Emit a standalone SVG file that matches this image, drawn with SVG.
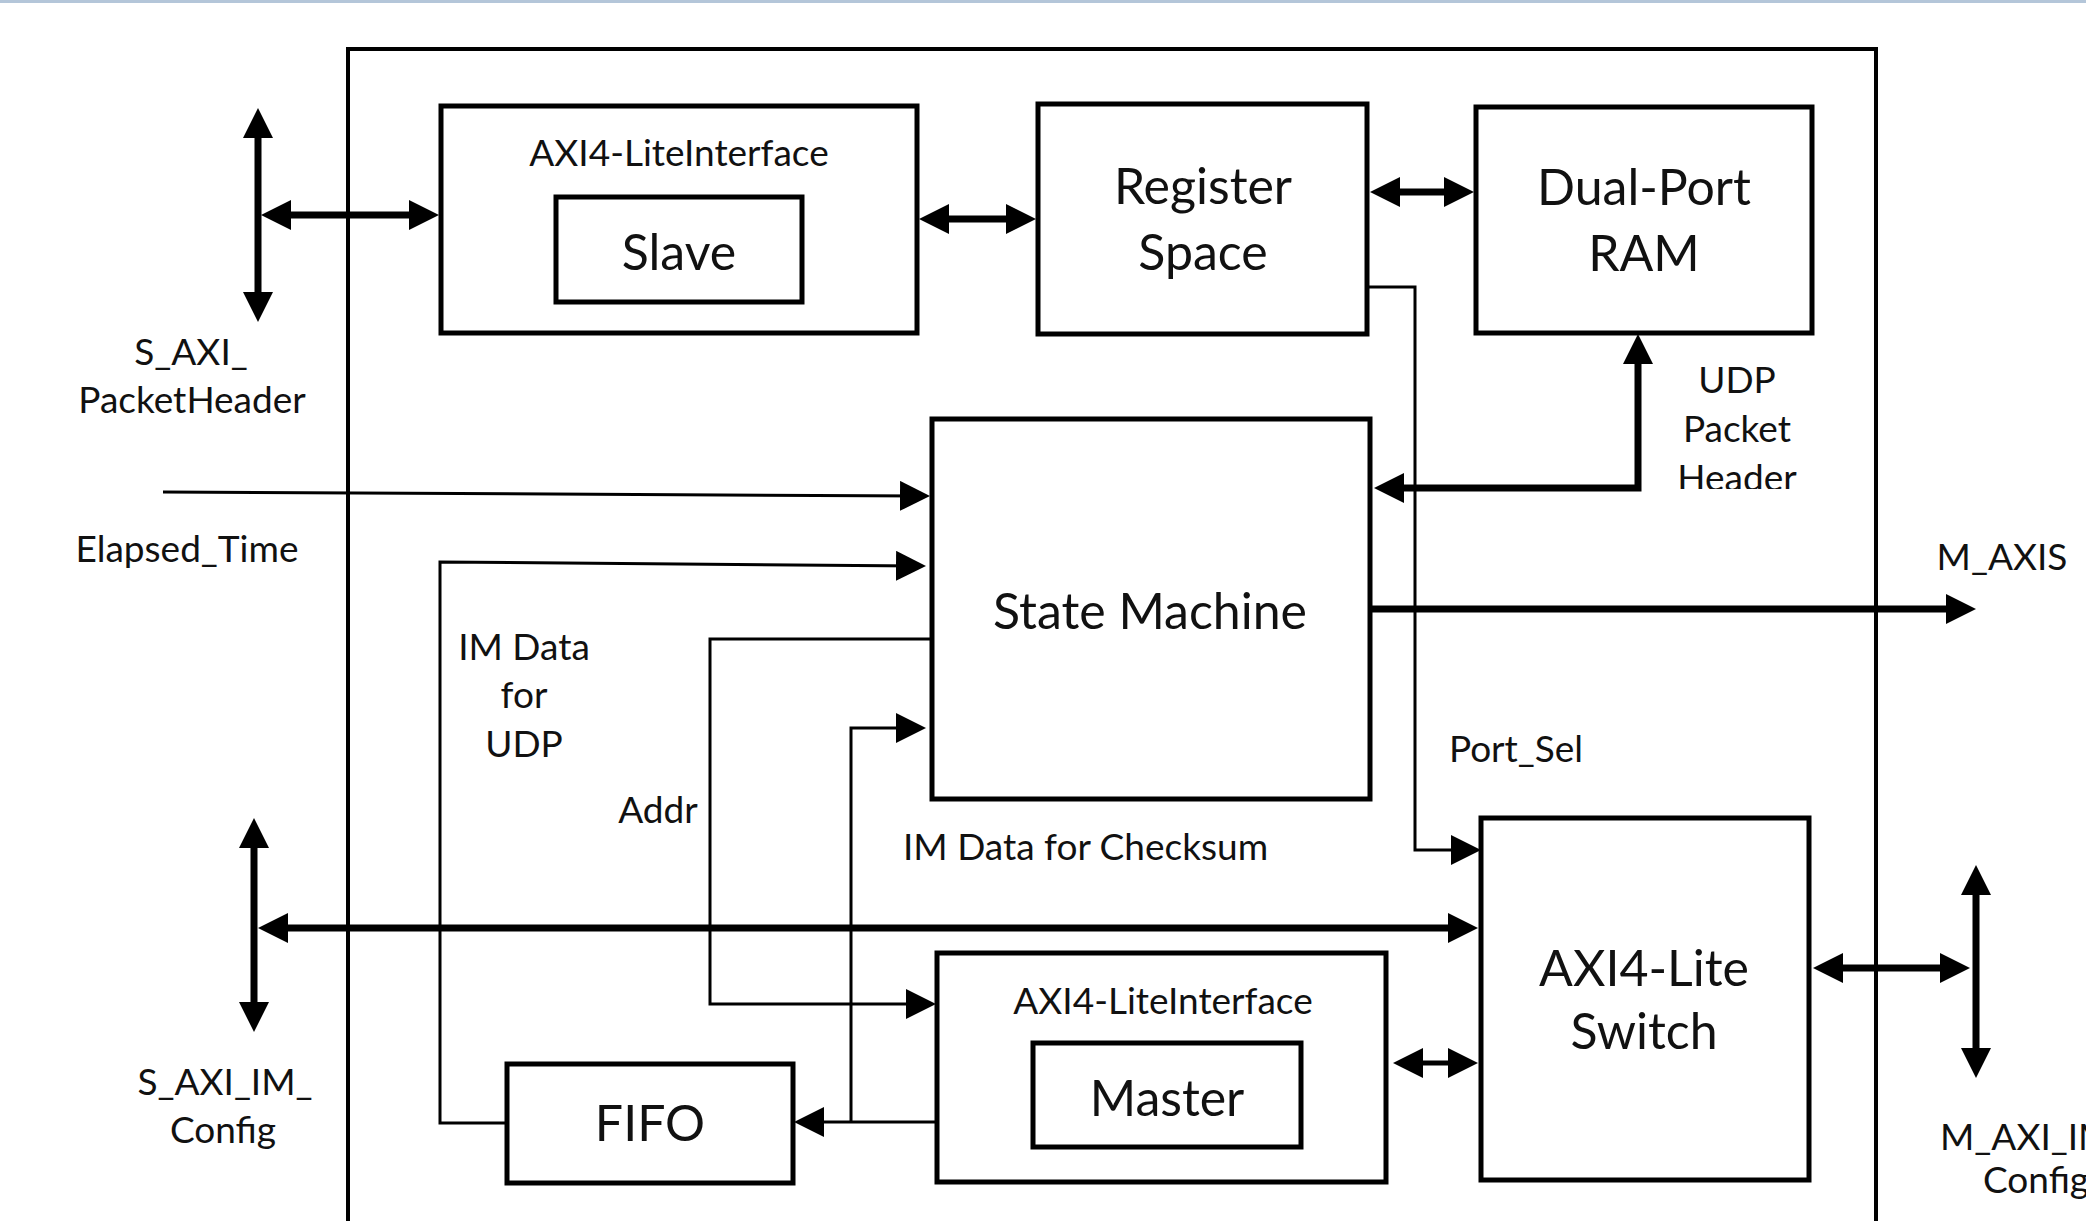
<svg xmlns="http://www.w3.org/2000/svg" width="2086" height="1221" viewBox="0 0 2086 1221">
<style>
.bg{fill:#ffffff}
.band{fill:#b4c6d9}
.frame{fill:none;stroke:#000;stroke-width:4}
.box{fill:#fff;stroke:#000;stroke-width:5}
.thin{fill:none;stroke:#000;stroke-width:3}
.thick{fill:none;stroke:#000;stroke-width:7}
.mid{fill:none;stroke:#000;stroke-width:5}
.lbl{font-family:Lato,"Liberation Sans",sans-serif;font-size:37px;fill:#111;text-anchor:middle}
.big{font-size:50px}
.start{text-anchor:start}
</style>
<defs>
<marker id="ah" markerUnits="userSpaceOnUse" markerWidth="30" markerHeight="30" refX="22" refY="15" orient="auto-start-reverse" viewBox="0 0 30 30">
<path d="M0,0 L30,15 L0,30 Z" fill="#000"/>
</marker>
<clipPath id="hdrclip"><rect x="1650" y="440" width="200" height="49"/></clipPath>
</defs>
<rect class="bg" x="0" y="0" width="2086" height="1221"/>
<rect class="band" x="0" y="0" width="2086" height="3"/>
<rect class="frame" x="348" y="49" width="1528" height="1250"/>

<g id="slave-interface">
<rect class="box" x="441" y="106" width="476" height="227"/>
<text class="lbl" x="679" y="166">AXI4-LiteInterface</text>
<rect class="box" x="556" y="197" width="246" height="105"/>
<text class="lbl big" x="679" y="270">Slave</text>
</g>
<g id="register-space">
<rect class="box" x="1038" y="104" width="329" height="230"/>
<text class="lbl big" x="1203" y="204">Register</text>
<text class="lbl big" x="1203" y="270">Space</text>
</g>
<g id="dual-port-ram">
<rect class="box" x="1476" y="107" width="336" height="226"/>
<text class="lbl big" x="1644" y="205">Dual-Port</text>
<text class="lbl big" x="1644" y="271">RAM</text>
</g>
<g id="state-machine">
<rect class="box" x="932" y="419" width="438" height="380"/>
<text class="lbl big" x="1150" y="629">State Machine</text>
</g>
<g id="axi4-lite-switch">
<rect class="box" x="1481" y="818" width="328" height="362"/>
<text class="lbl big" x="1644" y="986">AXI4-Lite</text>
<text class="lbl big" x="1644" y="1049">Switch</text>
</g>
<g id="master-interface">
<rect class="box" x="937" y="953" width="449" height="229"/>
<text class="lbl" x="1163" y="1014">AXI4-LiteInterface</text>
<rect class="box" x="1033" y="1043" width="268" height="104"/>
<text class="lbl big" x="1167" y="1116">Master</text>
</g>
<g id="fifo">
<rect class="box" x="507" y="1064" width="286" height="119"/>
<text class="lbl big" x="650" y="1141">FIFO</text>
</g>

<g id="connectors">
<path class="thick" d="M258,116 V314" marker-start="url(#ah)" marker-end="url(#ah)"/>
<path class="thick" d="M269,215 H431" marker-start="url(#ah)" marker-end="url(#ah)"/>
<path class="thick" d="M927,219 H1028" marker-start="url(#ah)" marker-end="url(#ah)"/>
<path class="thick" d="M1378,192 H1466" marker-start="url(#ah)" marker-end="url(#ah)"/>
<path class="thin" d="M1367,287 H1415 V850 H1473" marker-end="url(#ah)"/>
<path class="thick" d="M1382,488 H1638 V342" marker-start="url(#ah)" marker-end="url(#ah)"/>
<path class="thin" d="M163,492 L922,496" marker-end="url(#ah)"/>
<path class="thin" d="M507,1123 H440 V562 L918,566" marker-end="url(#ah)"/>
<path class="thin" d="M932,639 H710 V1004 H928" marker-end="url(#ah)"/>
<path class="thin" d="M937,1122 H802" marker-end="url(#ah)"/>
<path class="thin" d="M851,1122 V728 H918" marker-end="url(#ah)"/>
<path class="thick" d="M1370,609 H1968" marker-end="url(#ah)"/>
<path class="thick" d="M254,826 V1024" marker-start="url(#ah)" marker-end="url(#ah)"/>
<path class="thick" d="M266,928 H1470" marker-start="url(#ah)" marker-end="url(#ah)"/>
<path class="mid" d="M1401,1063 H1470" marker-start="url(#ah)" marker-end="url(#ah)"/>
<path class="thick" d="M1821,968 H1962" marker-start="url(#ah)" marker-end="url(#ah)"/>
<path class="thick" d="M1976,873 V1070" marker-start="url(#ah)" marker-end="url(#ah)"/>
</g>

<g id="labels">
<text class="lbl" x="191" y="365">S_AXI_</text>
<text class="lbl" x="192" y="413">PacketHeader</text>
<text class="lbl" x="187" y="562">Elapsed_Time</text>
<text class="lbl" x="524" y="660">IM Data</text>
<text class="lbl" x="524" y="708">for</text>
<text class="lbl" x="524" y="757">UDP</text>
<text class="lbl" x="658" y="823">Addr</text>
<text class="lbl start" x="903" y="860">IM Data for Checksum</text>
<text class="lbl" x="1737" y="393">UDP</text>
<text class="lbl" x="1737" y="442">Packet</text>
<text class="lbl" x="1737" y="491" clip-path="url(#hdrclip)">Header</text>
<text class="lbl" x="2002" y="570">M_AXIS</text>
<text class="lbl" x="1516" y="762">Port_Sel</text>
<text class="lbl" x="225" y="1095">S_AXI_IM_</text>
<text class="lbl" x="223" y="1143">Config</text>
<text class="lbl start" x="1940" y="1150">M_AXI_IM_</text>
<text class="lbl start" x="1983" y="1193">Config</text>
</g>
</svg>
